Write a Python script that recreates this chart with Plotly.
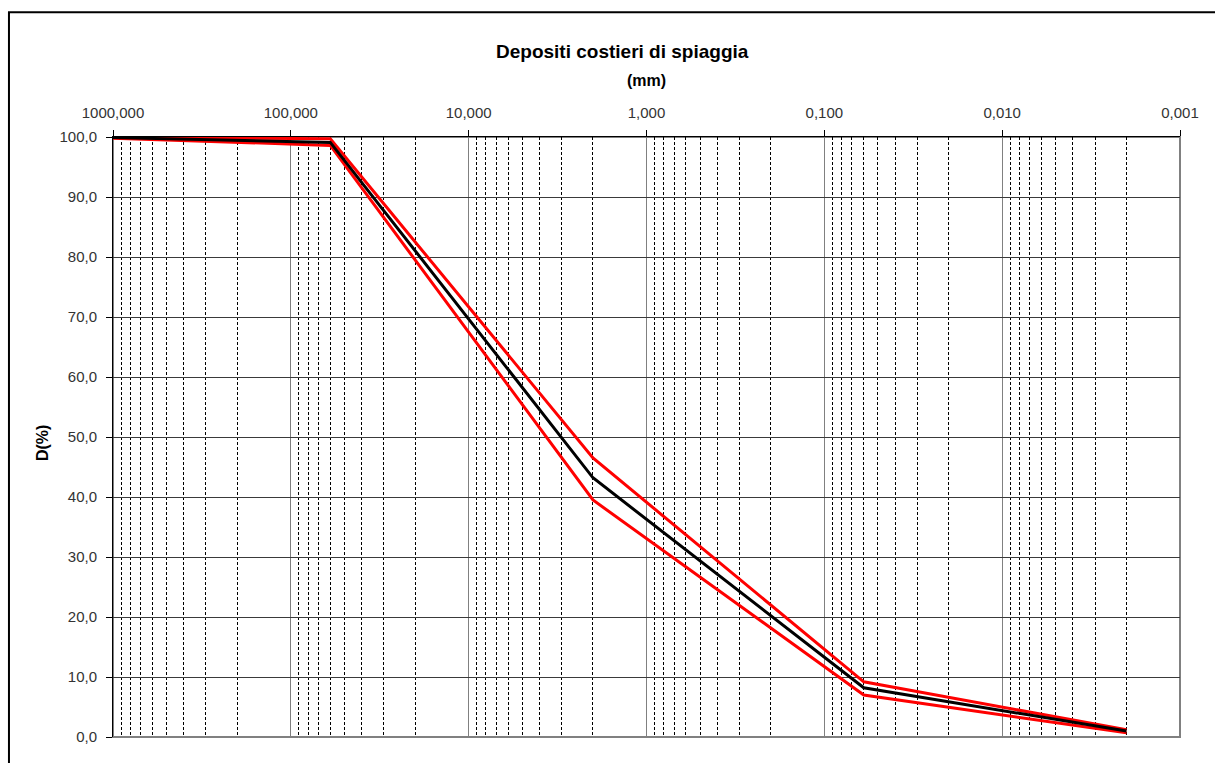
import numpy as np
import plotly.graph_objects as go

# Data
diam_mm = [1000, 60, 2, 0.06, 0.002]
pass_mean = [99.9, 99.1, 43.2, 8.2, 1.0]
pass_upper = [100.0, 99.7, 46.5, 9.2, 1.2]
pass_lower = [99.8, 98.6, 39.5, 7.0, 0.7]

x_tickvals = [1000, 100, 10, 1, 0.1, 0.01, 0.001]
x_ticktext = ["1000,000", "100,000", "10,000", "1,000", "0,100", "0,010", "0,001"]
y_tickvals = list(range(0, 101, 10))
y_ticktext = [f"{v:.1f}".replace(".", ",") for v in y_tickvals]

minor_vals = [m * 10.0 ** e for e in range(-3, 3) for m in range(2, 10)]

fig = go.Figure()
fig.add_trace(go.Scatter(x=diam_mm, y=pass_upper, mode="lines",
                         line=dict(color="#ff0000", width=3), showlegend=False))
fig.add_trace(go.Scatter(x=diam_mm, y=pass_lower, mode="lines",
                         line=dict(color="#ff0000", width=3), showlegend=False))
fig.add_trace(go.Scatter(x=diam_mm, y=pass_mean, mode="lines",
                         line=dict(color="#000000", width=3), showlegend=False))

FAM = "Liberation Sans, Arial, sans-serif"
font = dict(family=FAM, size=15, color="#333333")

fig.update_layout(
    width=1215, height=763,
    margin=dict(l=113, r=35, t=137, b=26),
    paper_bgcolor="white", plot_bgcolor="white",
    font=font,
    showlegend=False,
    xaxis=dict(
        type="log", range=[3, -3], side="top",
        tickmode="array", tickvals=x_tickvals, ticktext=x_ticktext,
        showgrid=True, gridcolor="#808080", gridwidth=1,
        showline=True, linecolor="#000000", linewidth=1,
        ticks="outside", ticklen=6, tickcolor="#000000",
        tickfont=font, ticklabelstandoff=6,
        minor=dict(tickmode="array", tickvals=minor_vals, showgrid=True,
                   gridcolor="#000000", griddash="3px,2px", gridwidth=1, ticks=""),
        zeroline=False,
    ),
    yaxis=dict(
        range=[0, 100],
        tickmode="array", tickvals=y_tickvals, ticktext=y_ticktext,
        showgrid=True, gridcolor="#3a3a3a", gridwidth=1,
        showline=True, linecolor="#000000", linewidth=1,
        ticks="outside", ticklen=6, tickcolor="#000000",
        tickfont=font, ticklabelstandoff=6, zeroline=False,
    ),
    shapes=[
        dict(type="rect", xref="paper", yref="paper", x0=0, x1=1, y0=0, y1=1,
             line=dict(color="#808080", width=2), layer="below"),
        dict(type="rect", xref="paper", yref="paper",
             x0=-0.0975, x1=1.05, y0=-0.06, y1=1.208,
             line=dict(color="#000000", width=2)),
    ],
    annotations=[
        dict(text="<b>Depositi costieri di spiaggia</b>", xref="paper", yref="paper",
             x=0.4775, y=1.143, xanchor="center", yanchor="middle", showarrow=False,
             font=dict(family=FAM, size=19, color="#000000")),
        dict(text="<b>(mm)</b>", xref="paper", yref="paper",
             x=0.5, y=1.094, xanchor="center", yanchor="middle", showarrow=False,
             font=dict(family=FAM, size=16, color="#000000")),
        dict(text="<b>D(%)</b>", xref="paper", yref="paper",
             x=-0.0665, y=0.49, xanchor="center", yanchor="middle",
             showarrow=False, textangle=-90,
             font=dict(family=FAM, size=16, color="#000000")),
    ],
)

fig.write_html("out.html")
